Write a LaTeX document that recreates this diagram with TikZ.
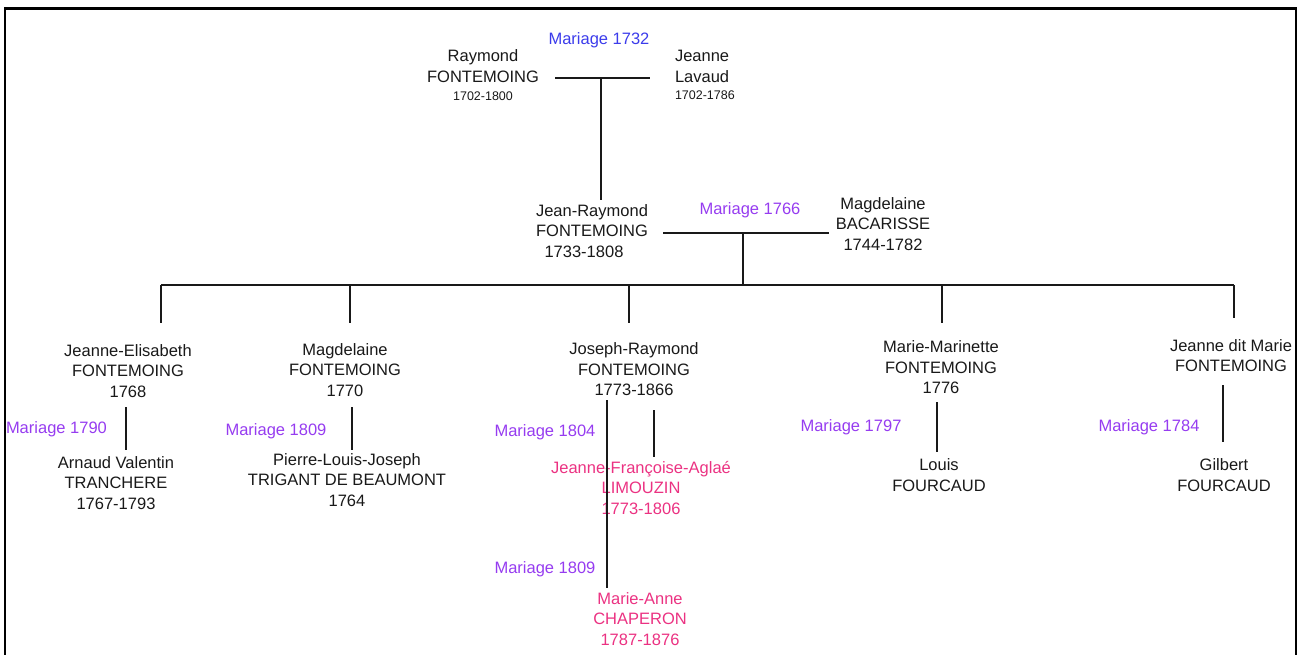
\documentclass[tikz,border=0pt]{standalone}
\usepackage{fontspec}
\setmainfont{Liberation Sans}
\definecolor{mblue}{RGB}{60,60,235}
\definecolor{mpurple}{RGB}{150,60,240}
\definecolor{mpink}{RGB}{235,50,130}
\definecolor{ink}{RGB}{25,25,25}
\begin{document}
\begin{tikzpicture}[x=1pt,y=-1pt,
  every node/.style={inner sep=0pt,outer sep=0pt,text=ink,font=\fontsize{16.5}{20.5}\selectfont},
  person/.style={align=center},
  spouse/.style={align=center,text=mpink},
  mar/.style={text=mpurple},
  link/.style={draw=ink,line width=2pt},
  toplink/.style={draw=ink,line width=2.6pt},
  thinlink/.style={draw=ink,line width=1.5pt},
  frame/.style={draw=black,line width=2.2pt}]
\useasboundingbox (0,0) rectangle (1298,655);
\draw[frame] (5,656) -- (5,8.5) -- (1296,8.5) -- (1296,656);

% generation 1
\node[person] (raymond) at (483,75.2) {Raymond\\FONTEMOING\\[-2.5pt]{\fontsize{12.5}{14}\selectfont 1702-1800}};
\node[align=left,anchor=west] (jeanne) at (675,75) {Jeanne\\Lavaud\\[-3pt]{\fontsize{12.5}{14}\selectfont 1702-1786}};
\node[mar,text=mblue] (m1732) at (599,40) {Mariage 1732};
\coordinate (a1) at (555,78);
\coordinate (a2) at (650,78);
\coordinate (a3) at (601,78);
\coordinate (a4) at (601,200);
\draw[toplink] (a1) -- (a2);
\draw[toplink] (a3) -- (a4);

% generation 2
\node[person] (jr) at (592,231) {Jean-Raymond\\FONTEMOING\\1733-1808\hspace*{16pt}};
\node[person] (mag) at (883,224) {Magdelaine\\BACARISSE\\1744-1782};
\node[mar] (m1766) at (750,210) {Mariage 1766};
\coordinate (b1) at (663,233);
\coordinate (b2) at (829,233);
\coordinate (b3) at (743,233);
\coordinate (b4) at (743,285);
\draw[link] (b1) -- (b2);
\draw[link] (b3) -- (b4);

% children bar
\coordinate (c1) at (161,285);
\coordinate (c2) at (350,285);
\coordinate (c3) at (629,285);
\coordinate (c4) at (942,285);
\coordinate (c5) at (1234,285);
\coordinate (d1) at (161,323);
\coordinate (d2) at (350,323);
\coordinate (d3) at (629,323);
\coordinate (d4) at (942,323);
\coordinate (d5) at (1234,318);
\draw[link] (c1) -- (c5);
\draw[link] (c1) -- (d1);
\draw[link] (c2) -- (d2);
\draw[link] (c3) -- (d3);
\draw[link] (c4) -- (d4);
\draw[link] (c5) -- (d5);

% children
\node[person] (je) at (128,371) {Jeanne-Elisabeth\\FONTEMOING\\1768};
\node[person] (mf) at (345,370) {Magdelaine\\FONTEMOING\\1770};
\node[person] (jo) at (634,369.5) {Joseph-Raymond\\FONTEMOING\\1773-1866};
\node[person] (mm) at (941,367.5) {Marie-Marinette\\FONTEMOING\\1776};
\node[person] (jm) at (1231,355.5) {Jeanne dit Marie\\FONTEMOING};

% spouses
\node[person] (av) at (116,483) {Arnaud Valentin\\TRANCHERE\\1767-1793};
\node[person] (pl) at (347,480) {Pierre-Louis-Joseph\\TRIGANT DE BEAUMONT\\1764};
\node[spouse] (jf) at (641,488) {Jeanne-Françoise-Aglaé\\LIMOUZIN\\1773-1806};
\node[spouse] (ma) at (640,619) {Marie-Anne\\CHAPERON\\1787-1876};
\node[person] (lf) at (939,475) {Louis\\FOURCAUD};
\node[person] (gf) at (1224,475) {Gilbert\\FOURCAUD};

% marriage labels
\node[mar,anchor=west] (m1790) at (6,429) {Mariage 1790};
\node[mar] (m1809a) at (276,431) {Mariage 1809};
\node[mar] (m1804) at (545,432) {Mariage 1804};
\node[mar] (m1809b) at (545,569) {Mariage 1809};
\node[mar] (m1797) at (851,427) {Mariage 1797};
\node[mar] (m1784) at (1149,427) {Mariage 1784};

% marriage links
\coordinate (e1t) at (126,407); \coordinate (e1b) at (126,450);
\coordinate (e2t) at (352,407); \coordinate (e2b) at (352,450);
\coordinate (e3t) at (607,400); \coordinate (e3b) at (607,588);
\coordinate (e4t) at (654,410); \coordinate (e4b) at (654,457);
\coordinate (e5t) at (937,402); \coordinate (e5b) at (937,452);
\coordinate (e6t) at (1223,385); \coordinate (e6b) at (1223,442);
\draw[link] (e1t) -- (e1b);
\draw[link] (e2t) -- (e2b);
\draw[thinlink] (e3t) -- (e3b);
\draw[link] (e4t) -- (e4b);
\draw[link] (e5t) -- (e5b);
\draw[link] (e6t) -- (e6b);
\end{tikzpicture}
\end{document}
